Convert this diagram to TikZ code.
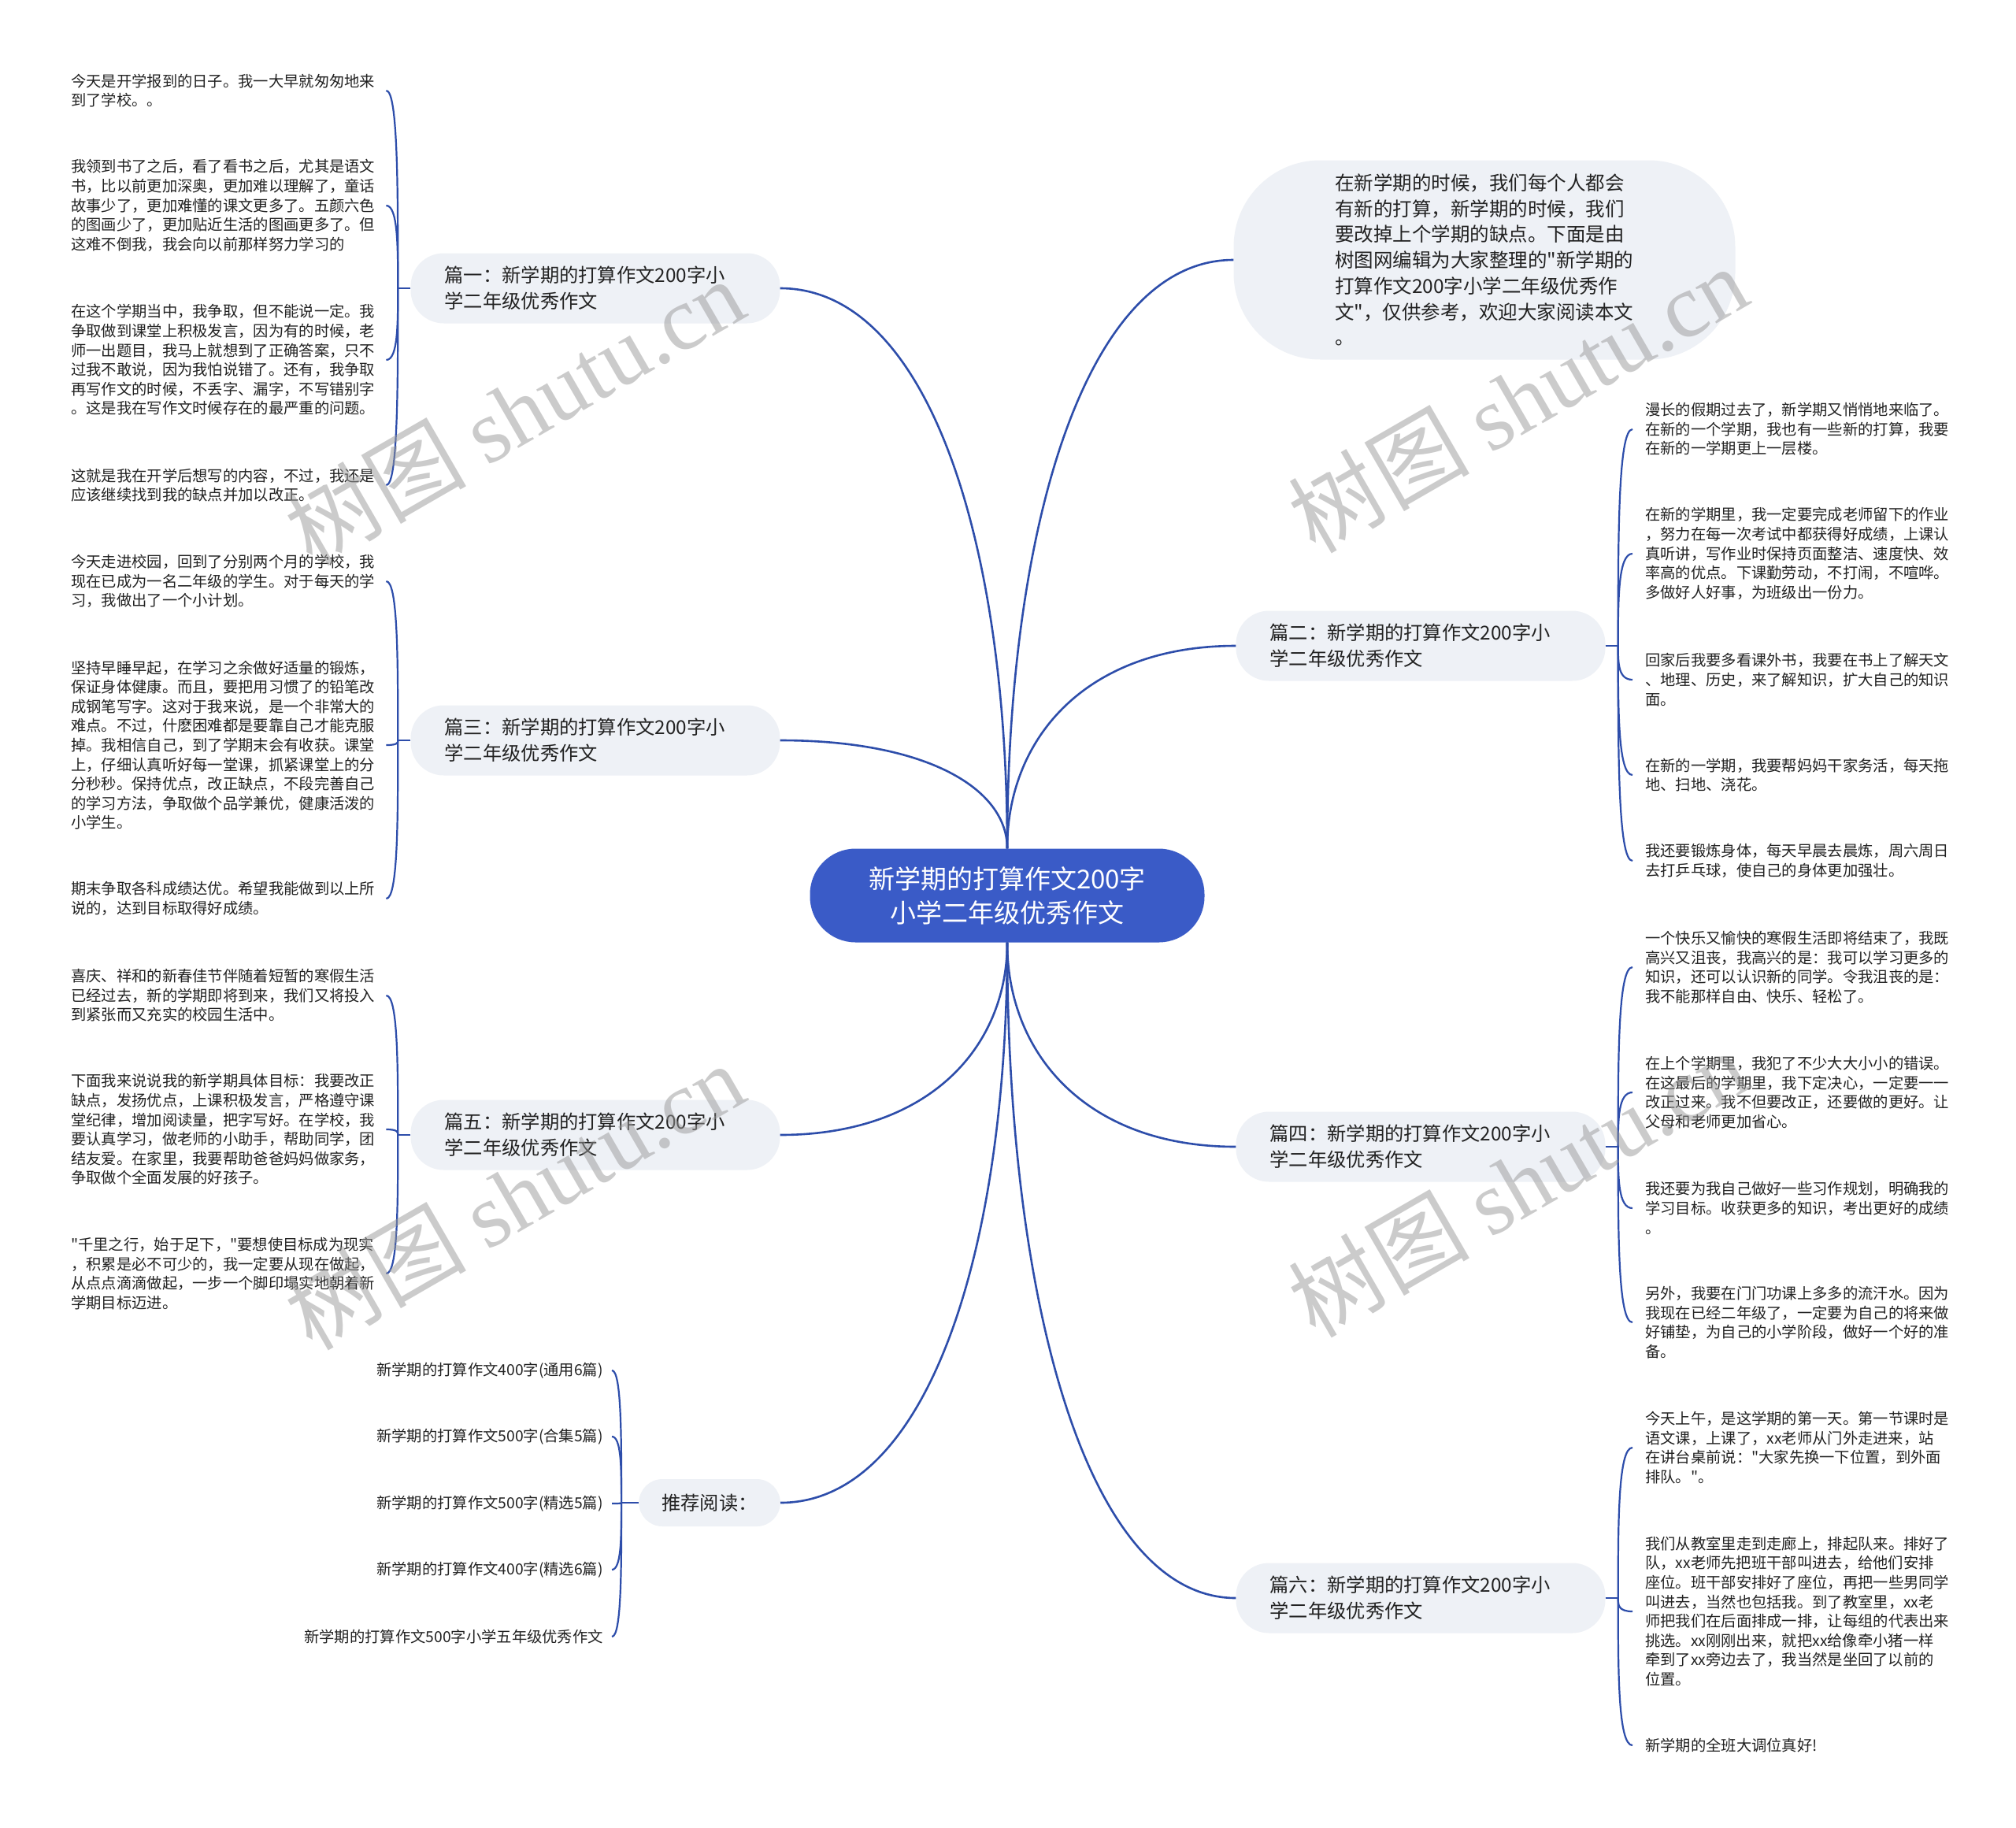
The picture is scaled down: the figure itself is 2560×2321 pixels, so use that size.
\documentclass[tikz,border=0pt]{standalone}
\usepackage{fontspec}
\setmainfont{Noto Sans CJK SC}[Ligatures=TeXOff]
\newfontfamily\wmserif{Liberation Serif}
\usetikzlibrary{calc}
\definecolor{connc}{HTML}{2D4DAA}
\definecolor{mainc}{HTML}{3A5BC7}
\definecolor{branchc}{HTML}{EEF1F6}
\definecolor{textc}{HTML}{222222}
\newcommand\mmcurve[2]{\draw[conn] (#1) .. controls ($(#1)!0.55!(#1 |- #2)$) and ($(#2)!0.65!(#1 |- #2)$) .. (#2);}
\newcommand\mmhook[2]{\draw[leafconn] (#1) .. controls ($(#1)!0.5!(#1 |- #2)$) and (#1 |- #2) .. (#2);}
\begin{document}
\begin{tikzpicture}[x=1pt,y=-1pt,
  conn/.style={draw=connc, line width=2.6pt},
  leafconn/.style={draw=connc, line width=2.2pt},
  leaftext/.style={font=\fontsize{19.3}{24.6}\selectfont, text=textc},
  leafL/.style={leaftext, anchor=west, inner sep=0pt, text width=400pt, align=left},
  leafR/.style={leaftext, anchor=west, inner xsep=16pt, inner ysep=0pt, text width=400pt, align=left},
  recitem/.style={leaftext, anchor=east, inner xsep=11pt, inner ysep=0pt},
  branch/.style={fill=branchc, rounded corners=42pt, minimum height=89pt, inner xsep=43pt, inner ysep=0pt, text width=383pt, align=left, font=\fontsize{24.3}{33}\selectfont, text=textc},
  recnode/.style={fill=branchc, rounded corners=30pt, minimum height=60pt, inner xsep=29pt, inner ysep=0pt, font=\fontsize{24.3}{33}\selectfont, text=textc},
  intronode/.style={fill=branchc, rounded corners=110pt, minimum width=637pt, minimum height=253pt, inner sep=0pt, text width=380pt, align=left, font=\fontsize{24.5}{32.7}\selectfont, text=textc},
  mainnode/.style={fill=mainc, rounded corners=58pt, minimum width=501pt, minimum height=119pt, inner sep=0pt, align=center, font=\fontsize{33}{43}\selectfont, text=white},
  wmark/.style={rotate=30, text=black!40, opacity=0.5, font=\fontsize{115}{115}\selectfont, inner sep=0pt}
]
\useasboundingbox (0,0) rectangle (2560,2321);
\fill[white] (0,0) rectangle (2560,2321);

% main and branch nodes
\node[mainnode] (c) at (1279,1137) {新学期的打算作文200字\\小学二年级优秀作文};
\node[branch] (b1) at (756,366) {篇一：新学期的打算作文200字小\\学二年级优秀作文};
\node[branch] (b3) at (756,940) {篇三：新学期的打算作文200字小\\学二年级优秀作文};
\node[branch] (b5) at (756,1441) {篇五：新学期的打算作文200字小\\学二年级优秀作文};
\node[recnode, anchor=east] (rec) at (991,1908) {推荐阅读：};
\node[intronode] (intro) at (1885,330) {在新学期的时候，我们每个人都会\\有新的打算，新学期的时候，我们\\要改掉上个学期的缺点。下面是由\\树图网编辑为大家整理的"新学期的\\打算作文200字小学二年级优秀作\\文"，仅供参考，欢迎大家阅读本文\\。};
\node[branch] (b2) at (1804,820) {篇二：新学期的打算作文200字小\\学二年级优秀作文};
\node[branch] (b4) at (1804,1456) {篇四：新学期的打算作文200字小\\学二年级优秀作文};
\node[branch] (b6) at (1804,2029) {篇六：新学期的打算作文200字小\\学二年级优秀作文};

% left leaves
\node[leafL] (l1a) at (90,115) {今天是开学报到的日子。我一大早就匆匆地来\\到了学校。。};
\node[leafL] (l1b) at (90,261) {我领到书了之后，看了看书之后，尤其是语文\\书，比以前更加深奥，更加难以理解了，童话\\故事少了，更加难懂的课文更多了。五颜六色\\的图画少了，更加贴近生活的图画更多了。但\\这难不倒我，我会向以前那样努力学习的};
\node[leafL] (l1c) at (90,457) {在这个学期当中，我争取，但不能说一定。我\\争取做到课堂上积极发言，因为有的时候，老\\师一出题目，我马上就想到了正确答案，只不\\过我不敢说，因为我怕说错了。还有，我争取\\再写作文的时候，不丢字、漏字，不写错别字\\。这是我在写作文时候存在的最严重的问题。};
\node[leafL] (l1d) at (90,616) {这就是我在开学后想写的内容，不过，我还是\\应该继续找到我的缺点并加以改正。};

\node[leafL] (l3a) at (90,738) {今天走进校园，回到了分别两个月的学校，我\\现在已成为一名二年级的学生。对于每天的学\\习，我做出了一个小计划。};
\node[leafL] (l3b) at (90,946) {坚持早睡早起，在学习之余做好适量的锻炼，\\保证身体健康。而且，要把用习惯了的铅笔改\\成钢笔写字。这对于我来说，是一个非常大的\\难点。不过，什麽困难都是要靠自己才能克服\\掉。我相信自己，到了学期末会有收获。课堂\\上，仔细认真听好每一堂课，抓紧课堂上的分\\分秒秒。保持优点，改正缺点，不段完善自己\\的学习方法，争取做个品学兼优，健康活泼的\\小学生。};
\node[leafL] (l3c) at (90,1141) {期末争取各科成绩达优。希望我能做到以上所\\说的，达到目标取得好成绩。};

\node[leafL] (l5a) at (90,1264) {喜庆、祥和的新春佳节伴随着短暂的寒假生活\\已经过去，新的学期即将到来，我们又将投入\\到紧张而又充实的校园生活中。};
\node[leafL] (l5b) at (90,1434) {下面我来说说我的新学期具体目标：我要改正\\缺点，发扬优点，上课积极发言，严格遵守课\\堂纪律，增加阅读量，把字写好。在学校，我\\要认真学习，做老师的小助手，帮助同学，团\\结友爱。在家里，我要帮助爸爸妈妈做家务，\\争取做个全面发展的好孩子。};
\node[leafL] (l5c) at (90,1617) {"千里之行，始于足下，"要想使目标成为现实\\，积累是必不可少的，我一定要从现在做起，\\从点点滴滴做起，一步一个脚印塌实地朝着新\\学期目标迈进。};

% recommended reading
\node[recitem] (rc1) at (777,1740) {新学期的打算作文400字(通用6篇)};
\node[recitem] (rc2) at (777,1824) {新学期的打算作文500字(合集5篇)};
\node[recitem] (rc3) at (777,1909) {新学期的打算作文500字(精选5篇)};
\node[recitem] (rc4) at (777,1993) {新学期的打算作文400字(精选6篇)};
\node[recitem] (rc5) at (777,2078) {新学期的打算作文500字小学五年级优秀作文};

% right leaves
\node[leafR] (r2a) at (2073,545) {漫长的假期过去了，新学期又悄悄地来临了。\\在新的一个学期，我也有一些新的打算，我要\\在新的一学期更上一层楼。};
\node[leafR] (r2b) at (2073,703) {在新的学期里，我一定要完成老师留下的作业\\，努力在每一次考试中都获得好成绩，上课认\\真听讲，写作业时保持页面整洁、速度快、效\\率高的优点。下课勤劳动，不打闹，不喧哗。\\多做好人好事，为班级出一份力。};
\node[leafR] (r2c) at (2073,863) {回家后我要多看课外书，我要在书上了解天文\\、地理、历史，来了解知识，扩大自己的知识\\面。};
\node[leafR] (r2d) at (2073,984) {在新的一学期，我要帮妈妈干家务活，每天拖\\地、扫地、浇花。};
\node[leafR] (r2e) at (2073,1093) {我还要锻炼身体，每天早晨去晨炼，周六周日\\去打乒乓球，使自己的身体更加强壮。};

\node[leafR] (r4a) at (2073,1228) {一个快乐又愉快的寒假生活即将结束了，我既\\高兴又沮丧，我高兴的是：我可以学习更多的\\知识，还可以认识新的同学。令我沮丧的是：\\我不能那样自由、快乐、轻松了。};
\node[leafR] (r4b) at (2073,1387) {在上个学期里，我犯了不少大大小小的错误。\\在这最后的学期里，我下定决心，一定要一一\\改正过来。我不但要改正，还要做的更好。让\\父母和老师更加省心。};
\node[leafR] (r4c) at (2073,1534) {我还要为我自己做好一些习作规划，明确我的\\学习目标。收获更多的知识，考出更好的成绩\\。};
\node[leafR] (r4d) at (2073,1679) {另外，我要在门门功课上多多的流汗水。因为\\我现在已经二年级了，一定要为自己的将来做\\好铺垫，为自己的小学阶段，做好一个好的准\\备。};

\node[leafR] (r6a) at (2073,1838) {今天上午，是这学期的第一天。第一节课时是\\语文课，上课了，xx老师从门外走进来，站\\在讲台桌前说："大家先换一下位置，到外面\\排队。"。};
\node[leafR] (r6b) at (2073,2046) {我们从教室里走到走廊上，排起队来。排好了\\队，xx老师先把班干部叫进去，给他们安排\\座位。班干部安排好了座位，再把一些男同学\\叫进去，当然也包括我。到了教室里，xx老\\师把我们在后面排成一排，让每组的代表出来\\挑选。xx刚刚出来，就把xx给像牵小猪一样\\牵到了xx旁边去了，我当然是坐回了以前的\\位置。};
\node[leafR] (r6c) at (2073,2216) {新学期的全班大调位真好!};

% main connectors
\mmcurve{c.north}{b1.east}
\mmcurve{c.north}{b3.east}
\mmcurve{c.north}{intro.west}
\mmcurve{c.north}{b2.west}
\mmcurve{c.south}{b5.east}
\mmcurve{c.south}{rec.east}
\mmcurve{c.south}{b4.west}
\mmcurve{c.south}{b6.west}

% junctions
\coordinate (j1) at ($(b1.west)+(-16,0)$);
\coordinate (j3) at ($(b3.west)+(-16,0)$);
\coordinate (j5) at ($(b5.west)+(-16,0)$);
\coordinate (jr) at ($(rec.west)+(-22,0)$);
\coordinate (j2) at ($(b2.east)+(16,0)$);
\coordinate (j4) at ($(b4.east)+(16,0)$);
\coordinate (j6) at ($(b6.east)+(16,0)$);
\draw[leafconn] (b1.west) -- (j1);
\draw[leafconn] (b3.west) -- (j3);
\draw[leafconn] (b5.west) -- (j5);
\draw[leafconn] (rec.west) -- (jr);
\draw[leafconn] (b2.east) -- (j2);
\draw[leafconn] (b4.east) -- (j4);
\draw[leafconn] (b6.east) -- (j6);

\mmhook{j1}{l1a.east}\mmhook{j1}{l1b.east}\mmhook{j1}{l1c.east}\mmhook{j1}{l1d.east}
\mmhook{j3}{l3a.east}\mmhook{j3}{l3b.east}\mmhook{j3}{l3c.east}
\mmhook{j5}{l5a.east}\mmhook{j5}{l5b.east}\mmhook{j5}{l5c.east}
\mmhook{jr}{rc1.east}\mmhook{jr}{rc2.east}\mmhook{jr}{rc3.east}\mmhook{jr}{rc4.east}\mmhook{jr}{rc5.east}
\mmhook{j2}{r2a.west}\mmhook{j2}{r2b.west}\mmhook{j2}{r2c.west}\mmhook{j2}{r2d.west}\mmhook{j2}{r2e.west}
\mmhook{j4}{r4a.west}\mmhook{j4}{r4b.west}\mmhook{j4}{r4c.west}\mmhook{j4}{r4d.west}
\mmhook{j6}{r6a.west}\mmhook{j6}{r6b.west}\mmhook{j6}{r6c.west}

% watermarks
\node[wmark] (wm1) at (653,522) {树图 {\wmserif shutu.cn}};
\node[wmark] (wm2) at (1927,506) {树图 {\wmserif shutu.cn}};
\node[wmark] (wm3) at (653,1518) {树图 {\wmserif shutu.cn}};
\node[wmark] (wm4) at (1927,1502) {树图 {\wmserif shutu.cn}};
\end{tikzpicture}
\end{document}
